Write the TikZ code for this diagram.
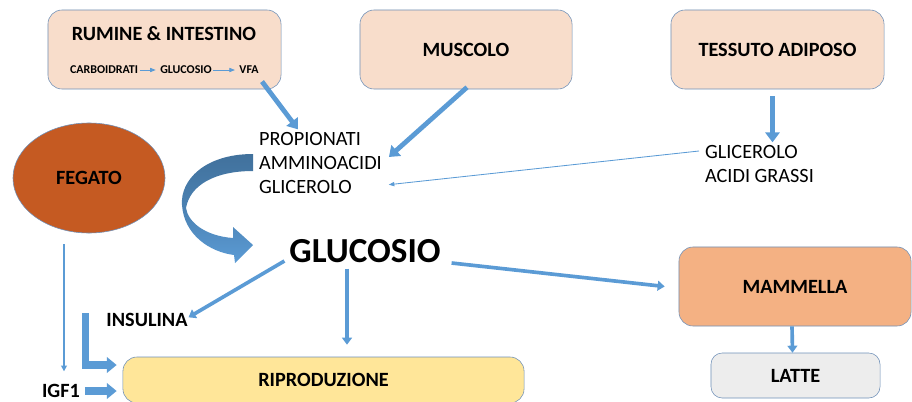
\documentclass[tikz,border=0pt]{standalone}
\usepackage{fontspec}
\setmainfont{Carlito}
\usepackage{xcolor}
\usepackage{tikz}
\usetikzlibrary{calc}
\usetikzlibrary{arrows.meta}
\usetikzlibrary{shapes}
\usetikzlibrary{shapes.geometric}
\definecolor{peach}{HTML}{F8DDCB}
\definecolor{boxline}{HTML}{6F90B8}
\definecolor{arrblue}{HTML}{5B9BD5}
\definecolor{arrdark}{HTML}{41719C}
\definecolor{liver}{HTML}{C55A22}
\definecolor{udder}{HTML}{F4B183}
\definecolor{milk}{HTML}{EDEDED}
\definecolor{repro}{HTML}{FFE699}
\tikzset{>=latex}
\tikzstyle{box} = [rectangle, rounded corners=10pt, draw=boxline, fill=peach, font=\fontsize{14.4}{17}\selectfont\bfseries]
\tikzstyle{lbl} = [font=\fontsize{14.4}{17}\selectfont\bfseries]
\tikzstyle{tiny} = [font=\fontsize{8.5}{10}\selectfont\bfseries, inner sep=1pt]
\tikzstyle{plain} = [font=\fontsize{14.4}{17}\selectfont, align=left, inner sep=2pt]
\tikzstyle{fat} = [-{Triangle[length=7pt, width=10pt]}, line width=3.4pt, draw=arrblue]
\tikzstyle{mid} = [-{Triangle[length=5pt, width=7pt]}, line width=2.6pt, draw=arrblue]
\tikzstyle{block} = [-{Triangle[length=7pt, width=11pt]}, line width=5pt, draw=arrblue]
\tikzstyle{slim} = [-{Triangle[length=4pt, width=4pt]}, line width=1.5pt, draw=arrblue]
\tikzstyle{hair} = [-{Triangle[length=4pt, width=3pt]}, line width=0.6pt, draw=arrblue, shorten >=2pt]

\begin{document}
\begin{tikzpicture}[x=0.025cm, y=-0.025cm]
\useasboundingbox (0,0) rectangle (912,401);
% organs
\node [box, minimum width=5.825cm, minimum height=1.975cm] (rumine) at (164.5,49.5) {};
\node [lbl] (rumtitle) at (164,34) {RUMINE \& INTESTINO};
\node [tiny] (carb) at (104,70) {CARBOIDRATI};
\node [tiny] (glu) at (186,70) {GLUCOSIO};
\node [tiny] (vfa) at (249,70) {VFA};
\node [box, minimum width=5.3cm, minimum height=1.975cm] (muscolo) at (466,49.5) {MUSCOLO};
\node [box, minimum width=5.325cm, minimum height=1.975cm] (tessuto) at (777.5,49.5) {TESSUTO ADIPOSO};
\node [ellipse, draw=boxline, fill=liver, minimum width=3.8cm, minimum height=2.75cm, lbl] (fegato) at (89,178) {FEGATO};
\node [box, fill=udder, minimum width=5.8cm, minimum height=1.975cm] (mammella) at (795,286.5) {MAMMELLA};
\node [box, fill=milk, rounded corners=8pt, minimum width=4.225cm, minimum height=1.125cm] (latte) at (795.5,375.5) {LATTE};
\node [box, fill=repro, minimum width=10.025cm, minimum height=1.15cm] (ripro) at (323.5,380) {RIPRODUZIONE};
% metabolites
\node [plain, anchor=west] (prop) at (256,163) {PROPIONATI\\AMMINOACIDI\\GLICEROLO};
\node [plain, anchor=west] (gli) at (702,164) {GLICEROLO\\ACIDI GRASSI};
\node [font=\fontsize{25}{30}\selectfont\bfseries] (gluc) at (365,251) {GLUCOSIO};
\node [lbl] (insulina) at (147,320) {INSULINA};
\node [lbl] (igf) at (61,391) {IGF1};
% curved arrow
\shade [top color=arrdark, bottom color=arrblue, middle color=arrdark!60!arrblue] (253,154) .. controls (205,154) and (180,180) .. (182,205) .. controls (184,235) and (210,252) .. (234,255) -- (235,263) -- (253,245) -- (233,227) -- (233,238) .. controls (205,236) and (188,222) .. (186,208) .. controls (190,185) and (215,171) .. (253,171) -- cycle;
% connectors
\draw [hair] (carb) -- (glu);
\draw [hair] (glu) -- (vfa);
\draw [fat] ($(vfa.south)+(13,6)$) -- ($(prop.north west)+(42,0)$);
\draw [fat] ($(muscolo.south)+(1,-2)$) -- ($(prop.east)+(4,-6)$);
\coordinate (tsout) at ($(tessuto.south)+(-5,7)$);
\draw [fat] (tsout) -- (tsout |- gli.north);
\draw [hair] ($(gli.west)+(-3,-13)$) -- ($(prop.east)+(1,22)$);
\draw [mid] ($(gluc.west)+(0,10)$) -- ($(insulina.north east)+(-4,9)$);
\coordinate (gdown) at ($(gluc.south)+(-18,1)$);
\draw [mid] (gdown) -- ($(gdown |- ripro.north)+(0,-12)$);
\draw [mid] ($(gluc.east)+(6,12)$) -- ($(mammella.west)+(-14,0)$);
\draw [mid] ($(mammella.south)+(-3,0)$) -- ($(latte.north)+(-3,0)$);
\coordinate (fout) at ($(fegato.south)+(-25,11)$);
\draw [slim] (fout) -- ($(fout |- igf.north)+(0,-8)$);
\coordinate (lstart) at ($(insulina.west)+(-16,-7)$);
\draw [block] (lstart) |- ($(ripro.west)+(-6,-15)$);
\draw [block] (igf.east) -- ($(ripro.west)+(-6,11)$);
\end{tikzpicture}
\end{document}
